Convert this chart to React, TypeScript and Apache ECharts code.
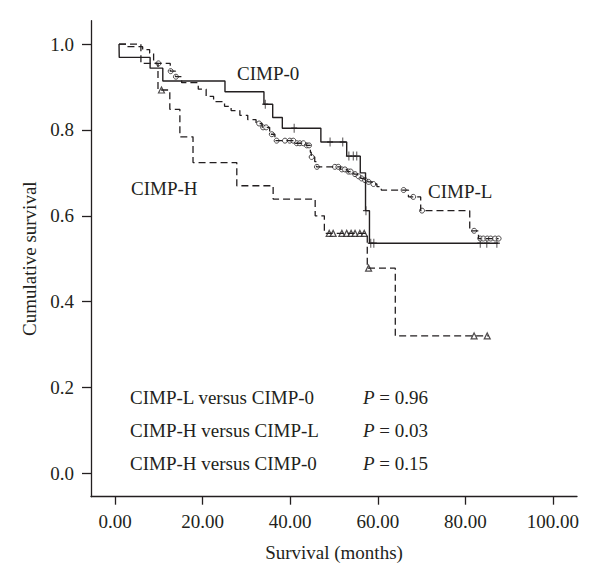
import React, { useEffect, useRef } from "react";
import * as echarts from "echarts";

// Kaplan–Meier step points: [month, cumulative survival after event]
const cimp0Steps: [number, number][] = [
  [0.9, 1.0], [0.95, 0.969], [8.0, 0.944], [10.9, 0.914], [25.1, 0.889],
  [34.0, 0.86], [36.0, 0.829], [38.2, 0.804], [47.0, 0.772], [52.9, 0.739],
  [56.0, 0.7], [57.2, 0.612], [58.1, 0.536], [87.5, 0.536],
];
const cimp0Censored: [number, number][] = [
  [34.3, 0.86], [40.9, 0.804], [49.1, 0.772], [52.0, 0.772], [53.4, 0.739],
  [54.4, 0.739], [55.2, 0.739], [57.3, 0.612], [58.4, 0.536], [59.1, 0.536],
  [83.4, 0.536], [84.9, 0.536], [87.2, 0.536],
];

const cimpLSteps: [number, number][] = [
  [0.9, 1.0], [2.8, 0.994], [6.3, 0.987], [7.9, 0.979], [8.8, 0.955],
  [12.6, 0.937], [13.8, 0.924], [15.2, 0.91], [19.0, 0.895], [20.8, 0.878],
  [22.5, 0.866], [25.0, 0.855], [26.5, 0.845], [28.5, 0.834], [30.3, 0.824],
  [32.2, 0.815], [33.6, 0.806], [35.3, 0.79], [36.5, 0.775], [41.2, 0.769],
  [43.6, 0.764], [44.6, 0.748], [44.8, 0.737], [45.6, 0.726], [46.0, 0.714],
  [51.5, 0.708], [53.0, 0.703], [54.5, 0.697], [55.4, 0.692], [56.1, 0.687],
  [56.9, 0.683], [57.7, 0.679], [58.7, 0.674], [59.8, 0.668], [60.8, 0.66],
  [67.0, 0.644], [69.8, 0.612], [81.0, 0.565], [83.0, 0.547], [87.6, 0.547],
];
const cimpLCensored: [number, number][] = [
  [9.9, 0.955], [12.7, 0.937], [13.9, 0.924],
  [32.9, 0.815], [33.8, 0.806], [34.5, 0.806], [35.8, 0.79], [36.9, 0.775],
  [38.8, 0.775], [39.9, 0.775], [40.7, 0.775], [41.5, 0.769], [42.2, 0.769],
  [43.0, 0.769], [43.8, 0.764], [44.3, 0.764], [44.9, 0.737], [46.1, 0.714],
  [50.2, 0.714], [51.0, 0.714], [51.8, 0.708], [52.5, 0.708], [53.3, 0.703],
  [53.8, 0.703], [54.8, 0.697], [55.6, 0.692], [56.3, 0.687], [57.1, 0.683],
  [57.9, 0.679], [59.0, 0.674], [65.9, 0.66], [68.1, 0.644], [70.1, 0.612],
  [82.0, 0.565], [83.4, 0.547], [84.1, 0.547], [85.0, 0.547], [85.8, 0.547],
  [86.8, 0.547], [87.6, 0.547],
];

const cimpHSteps: [number, number][] = [
  [0.9, 1.0], [5.9, 0.955], [9.8, 0.893], [12.5, 0.848], [14.8, 0.784],
  [17.8, 0.724], [27.8, 0.67], [36.1, 0.639], [45.7, 0.6], [47.8, 0.559],
  [57.6, 0.478], [64.0, 0.32], [85.3, 0.32],
];
const cimpHCensored: [number, number][] = [
  [10.6, 0.893], [48.9, 0.559], [49.8, 0.559], [51.8, 0.559], [52.9, 0.559],
  [53.9, 0.559], [54.8, 0.559], [55.9, 0.559], [56.9, 0.559], [57.9, 0.478],
  [82.0, 0.32], [85.0, 0.32],
];

const xTicks = [0, 20, 40, 60, 80, 100];
const yTicks = [0, 0.2, 0.4, 0.6, 0.8, 1.0];

const curveLabels = [
  { text: "CIMP-0", x: 237, y: 73.5 },
  { text: "CIMP-H", x: 131, y: 188 },
  { text: "CIMP-L", x: 428, y: 191 },
];
const comparisons = [
  { text: "CIMP-L versus CIMP-0", p: "0.96" },
  { text: "CIMP-H versus CIMP-L", p: "0.03" },
  { text: "CIMP-H versus CIMP-0", p: "0.15" },
];

const INK = "#231f20";
const FONT = "Liberation Serif";

export default function App() {
  const ref = useRef<HTMLDivElement>(null);
  useEffect(() => {
    const chart = echarts.init(ref.current!, null, { renderer: "svg" });
    const textStyle = { fontFamily: FONT, fontSize: 19, color: INK };
    const graphics: any[] = [];
    curveLabels.forEach((l) => {
      graphics.push({
        type: "text",
        x: l.x,
        y: l.y,
        style: { text: l.text, fontFamily: FONT, fontSize: 19, fill: INK, verticalAlign: "middle" },
      });
    });
    comparisons.forEach((c, i) => {
      const y = 397 + i * 33;
      graphics.push({
        type: "text",
        x: 130,
        y,
        style: { text: c.text, fontFamily: FONT, fontSize: 19, fill: INK, verticalAlign: "middle" },
      });
      graphics.push({
        type: "text",
        x: 363,
        y,
        style: {
          text: "{i|P} = " + c.p,
          fontFamily: FONT,
          fontSize: 19,
          fill: INK,
          verticalAlign: "middle",
          rich: { i: { fontStyle: "italic", fontFamily: FONT, fontSize: 19, fill: INK } },
        },
      });
    });

    chart.setOption({
      animation: false,
      backgroundColor: "#ffffff",
      grid: { left: 91, right: 23, top: 20.7, bottom: 86.3 },
      xAxis: {
        type: "value",
        min: -5.5,
        max: 105.5,
        splitLine: { show: false },
        axisLine: { show: true, onZero: false, lineStyle: { color: INK, width: 1.3 } },
        axisTick: { show: true, customValues: xTicks, length: 8, lineStyle: { color: INK, width: 1.3 } },
        axisLabel: {
          customValues: xTicks,
          formatter: (v: number) => v.toFixed(2),
          margin: 15,
          ...textStyle,
        },
        name: "Survival (months)",
        nameLocation: "middle",
        nameGap: 46,
        nameTextStyle: textStyle,
      },
      yAxis: {
        type: "value",
        min: -0.0545,
        max: 1.0545,
        splitLine: { show: false },
        axisLine: { show: true, onZero: false, lineStyle: { color: INK, width: 1.3 } },
        axisTick: { show: true, customValues: yTicks, length: 9, lineStyle: { color: INK, width: 1.3 } },
        axisLabel: {
          customValues: yTicks,
          formatter: (v: number) => v.toFixed(1),
          margin: 17,
          ...textStyle,
        },
        name: "Cumulative survival",
        nameLocation: "middle",
        nameGap: 52,
        nameTextStyle: textStyle,
      },
      series: [
        {
          name: "CIMP-0",
          type: "line",
          step: "end",
          symbol: "none",
          data: cimp0Steps,
          lineStyle: { color: INK, width: 1.4, type: "solid" },
        },
        {
          name: "CIMP-L",
          type: "line",
          step: "end",
          symbol: "none",
          data: cimpLSteps,
          lineStyle: { color: INK, width: 1.3, type: [7, 4] },
        },
        {
          name: "CIMP-H",
          type: "line",
          step: "end",
          symbol: "none",
          data: cimpHSteps,
          lineStyle: { color: INK, width: 1.3, type: [7, 4] },
        },
        {
          name: "CIMP-0 censored",
          type: "scatter",
          data: cimp0Censored,
          symbol: "path://M4,0L4,10M0,5L8,5",
          symbolSize: [6, 9],
          itemStyle: { color: "none", borderColor: INK, borderWidth: 1.2 },
        },
        {
          name: "CIMP-L censored",
          type: "scatter",
          data: cimpLCensored,
          symbol: "circle",
          symbolSize: 5,
          itemStyle: { color: "#ffffff", borderColor: INK, borderWidth: 1 },
        },
        {
          name: "CIMP-H censored",
          type: "scatter",
          data: cimpHCensored,
          symbol: "triangle",
          symbolSize: 6,
          itemStyle: { color: "#ffffff", borderColor: INK, borderWidth: 1.2 },
        },
      ],
      graphic: graphics,
    });
    return () => chart.dispose();
  }, []);
  return (
    <div
      ref={ref}
      style={{ position: "fixed", left: 0, top: 0, width: 600, height: 583, background: "#fff" }}
    />
  );
}
